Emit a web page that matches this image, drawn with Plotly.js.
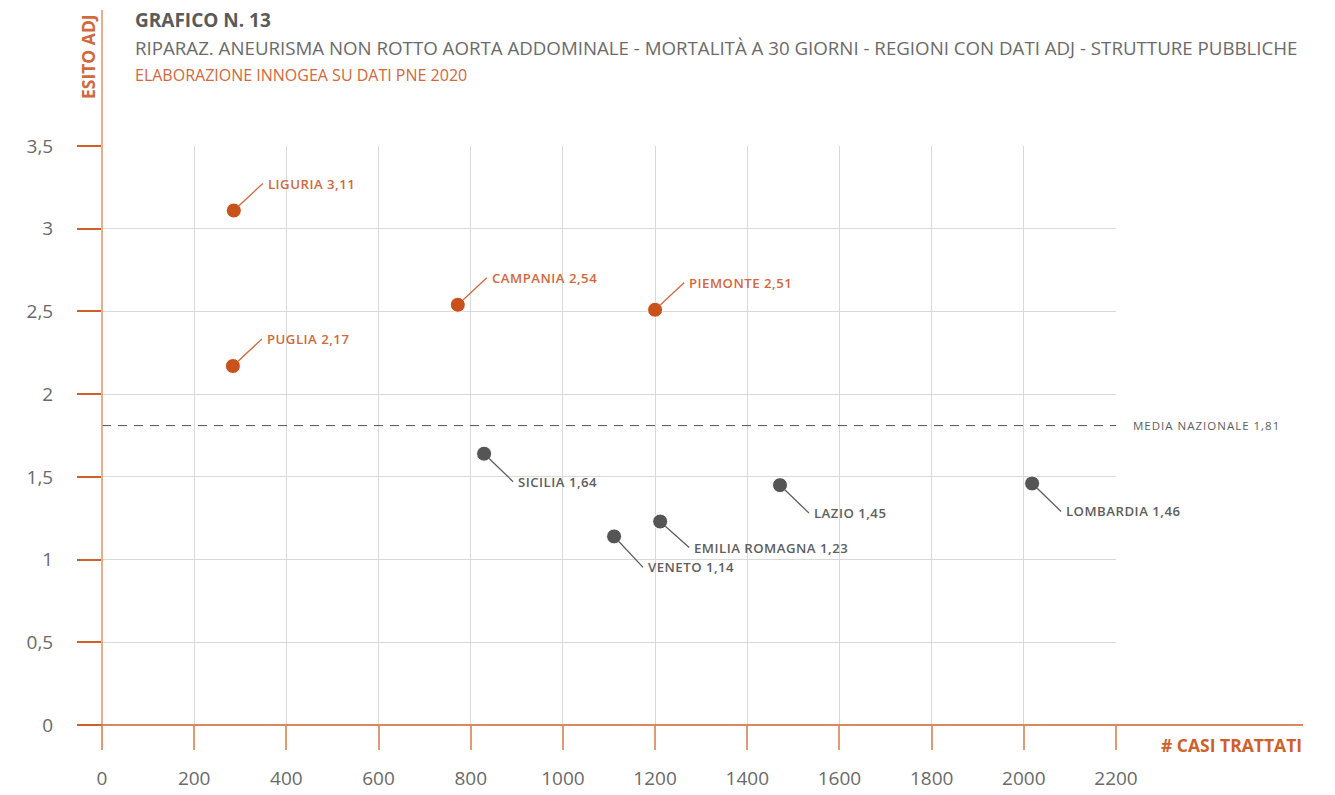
<!DOCTYPE html>
<html>
<head>
<meta charset="utf-8">
<script src="https://cdn.plot.ly/plotly-3.0.1.min.js"></script>
<style>
html, body { margin: 0; padding: 0; background: #fff; }
#chart { width: 1335px; height: 795px; }
</style>
</head>
<body>
<div id="chart"></div>
<script>
// ---- data ----
const regioni = ['LIGURIA', 'PUGLIA', 'CAMPANIA', 'PIEMONTE', 'SICILIA', 'VENETO', 'EMILIA ROMAGNA', 'LAZIO', 'LOMBARDIA'];
const casiTrattati = [286, 284, 772, 1200, 829, 1111, 1211, 1471, 2018];
const esitoAdj = [3.11, 2.17, 2.54, 2.51, 1.64, 1.14, 1.23, 1.45, 1.46];
const mediaNazionale = 1.81;
const xTicks = [0, 200, 400, 600, 800, 1000, 1200, 1400, 1600, 1800, 2000, 2200];
const yTicks = [0, 0.5, 1, 1.5, 2, 2.5, 3, 3.5];
// label vertical offsets (px) for the leader lines
const offsetEtichette = [-27, -27, -27, -27, 28, 31, 26, 28, 28];

const titolo = 'GRAFICO N. 13';
const sottotitolo = 'RIPARAZ. ANEURISMA NON ROTTO AORTA ADDOMINALE - MORTALITÀ A 30 GIORNI - REGIONI CON DATI ADJ - STRUTTURE PUBBLICHE';
const fonte = 'ELABORAZIONE INNOGEA SU DATI PNE 2020';
const titoloY = 'ESITO ADJ';
const titoloX = '# CASI TRATTATI';
const etichettaMedia = 'MEDIA NAZIONALE';

// ---- style ----
const ORANGE_PT = '#C9521A';
const ORANGE_TXT = '#D2683C';
const ORANGE_AX = '#D0602A';
const ORANGE_LIGHT = '#E39A72';
const GRAY_PT = '#555555';
const GRAY_TXT = '#5E5E5E';
const FONT = 'Open Sans, Noto Sans, sans-serif';

const fmt = v => String(v).replace('.', ',');
const above = esitoAdj.map(v => v > mediaNazionale);

const trace = {
  type: 'scatter',
  mode: 'markers',
  x: casiTrattati,
  y: esitoAdj,
  text: regioni,
  hoverinfo: 'text+x+y',
  marker: {
    size: 15,
    color: above.map(a => a ? ORANGE_PT : GRAY_PT),
    line: { color: '#ffffff', width: 1 }
  },
  showlegend: false,
  cliponaxis: false
};

const L = 102, R = 1116, T = 146, B = 725;
const px2x = p => (p - L) / (R - L);
const px2y = p => (B - p) / (B - T);

const annotations = [];
regioni.forEach((r, i) => {
  const up = above[i];
  annotations.push({
    x: casiTrattati[i], y: esitoAdj[i], xref: 'x', yref: 'y',
    text: '\u00A0' + r + ' ' + fmt(esitoAdj[i]),
    showarrow: true, arrowhead: 0, arrowwidth: 1.3,
    arrowcolor: up ? ORANGE_TXT : GRAY_TXT,
    standoff: 7,
    ax: 29, ay: offsetEtichette[i],
    xanchor: 'left', yanchor: 'middle', align: 'left', borderpad: 0,
    font: { family: FONT, size: 13.2, color: up ? ORANGE_TXT : GRAY_TXT, weight: 600 }
  });
});
const nPointLabels = annotations.length;

annotations.push(
  { xref: 'paper', yref: 'paper', x: px2x(133), y: px2y(20), xanchor: 'left', yanchor: 'middle', align: 'left', showarrow: false,
    text: titolo, font: { family: FONT, size: 19, color: '#5A5A5A', weight: 700 } },
  { xref: 'paper', yref: 'paper', x: px2x(133), y: px2y(48), xanchor: 'left', yanchor: 'middle', align: 'left', showarrow: false,
    text: sottotitolo, font: { family: FONT, size: 18.7, color: '#6A6A6A' } },
  { xref: 'paper', yref: 'paper', x: px2x(133), y: px2y(75), xanchor: 'left', yanchor: 'middle', align: 'left', showarrow: false,
    text: fonte, font: { family: FONT, size: 16, color: ORANGE_TXT } },
  { xref: 'paper', yref: 'paper', x: px2x(88), y: px2y(57), xanchor: 'center', yanchor: 'middle', showarrow: false,
    textangle: -90, text: titoloY, font: { family: FONT, size: 17.5, color: ORANGE_TXT, weight: 700 } },
  { xref: 'paper', yref: 'paper', x: px2x(1304), y: px2y(745), xanchor: 'right', yanchor: 'middle', showarrow: false,
    text: titoloX, font: { family: FONT, size: 17.5, color: ORANGE_AX, weight: 700 } }
);
const mediaIndex = annotations.length;
annotations.push(
  { xref: 'paper', yref: 'y', x: px2x(1131), y: mediaNazionale, xanchor: 'left', yanchor: 'middle', align: 'left', showarrow: false,
    text: etichettaMedia + ' ' + fmt(mediaNazionale), font: { family: FONT, size: 11.5, color: GRAY_TXT } }
);

// letter spacing like the reference
let css = '';
for (let i = 0; i < nPointLabels; i++) css += `g.annotation[data-index="${i}"] text { letter-spacing: 0.5px; }\n`;
css += `g.annotation[data-index="${mediaIndex}"] text { letter-spacing: 1px; }\n`;
const st = document.createElement('style');
st.textContent = css;
document.head.appendChild(st);

const shapes = [
  // media nazionale
  { type: 'line', xref: 'paper', yref: 'y', x0: 0, x1: 1, y0: mediaNazionale, y1: mediaNazionale,
    line: { color: '#555555', width: 1, dash: '9px,7px' }, layer: 'above' },
  // extended y axis line
  { type: 'line', xref: 'paper', yref: 'paper', x0: 0, x1: 0, y0: px2y(750), y1: px2y(10),
    line: { color: ORANGE_LIGHT, width: 1.6 }, layer: 'above' },
  // extended x axis line
  { type: 'line', xref: 'paper', yref: 'paper', x0: px2x(78), x1: px2x(1303), y0: 0, y1: 0,
    line: { color: ORANGE_AX, width: 1.4 }, layer: 'above' }
];

const layout = {
  width: 1335, height: 795,
  margin: { l: L, r: 1335 - R, t: T, b: 795 - B, pad: 0 },
  paper_bgcolor: '#ffffff', plot_bgcolor: '#ffffff',
  separators: ',.',
  font: { family: FONT, color: '#666666' },
  xaxis: {
    range: [0, 2200], tickvals: xTicks, ticktext: xTicks.map(String),
    showgrid: true, gridcolor: '#D9D9D9', gridwidth: 1,
    zeroline: false, showline: false,
    ticks: 'outside', ticklen: 24, tickwidth: 1.5, tickcolor: ORANGE_LIGHT,
    ticklabelstandoff: 12,
    tickfont: { family: FONT, size: 19, color: '#6A6A6A' },
    fixedrange: true
  },
  yaxis: {
    range: [0, 3.5], tickvals: yTicks, ticktext: yTicks.map(fmt),
    showgrid: true, gridcolor: '#D9D9D9', gridwidth: 1,
    zeroline: false, showline: false,
    ticks: 'outside', ticklen: 24, tickwidth: 1.5, tickcolor: ORANGE_AX,
    ticklabelstandoff: 20,
    tickfont: { family: FONT, size: 19, color: '#6A6A6A' },
    fixedrange: true
  },
  shapes: shapes,
  annotations: annotations,
  hovermode: 'closest'
};

Plotly.newPlot('chart', [trace], layout, { displayModeBar: false });
</script>
</body>
</html>
